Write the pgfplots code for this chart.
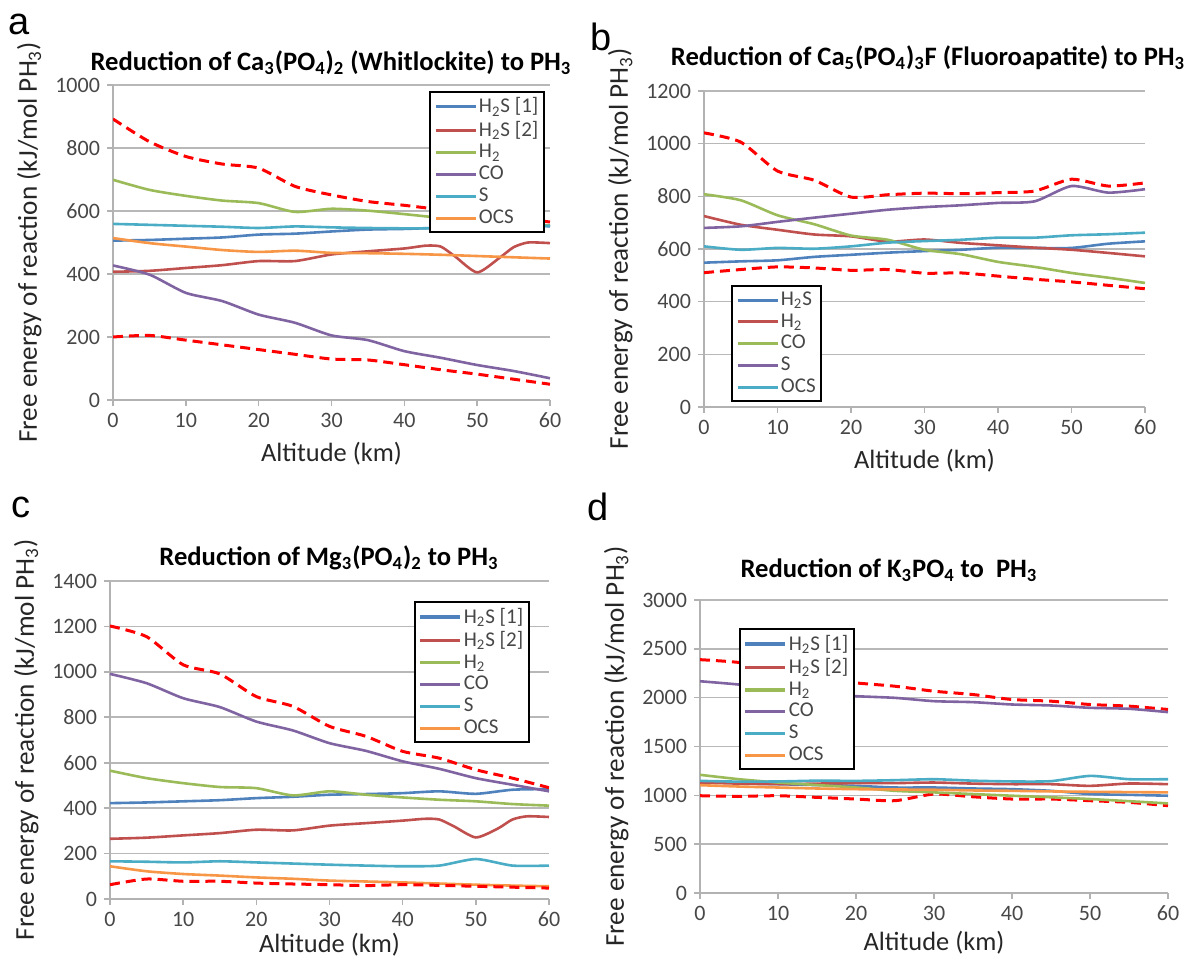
\documentclass[border=0pt]{standalone}
\usepackage{fontspec}
\setmainfont{Carlito}
\newfontfamily\arialf{Liberation Sans}
\usepackage{pgfplots}
\usepackage{pgfplotstable}
\pgfplotsset{compat=1.18}
\definecolor{xblue}{HTML}{4F81BD}
\definecolor{xred}{HTML}{C0504D}
\definecolor{xgreen}{HTML}{9BBB59}
\definecolor{xpurple}{HTML}{8064A2}
\definecolor{xaqua}{HTML}{4BACC6}
\definecolor{xorange}{HTML}{F79646}

% Panel a
\pgfplotstableread{
x up lo h2 s h2s co ocs
0 892 200 699 559 506 427 514
5 820 205 667 556 508 398 498
10 773 190 648 553 512 340 487
15 749 175 633 550 516 314 476
20 736 160 625 546 525 271 470
25 678 145 597 551 528 245 474
30 651 130 607 548 535 205 467
35 630 127 601 546 541 190 466
40 618 112 590 545 543 155 464
45 604 96 578 547 546 134 461
50 588 82 567 580 537 111 457
55 578 66 559 555 556 92 453
60 565 50 554 553 551 69 449
}\tabA
\pgfplotstableread{
x v
0 407
5 410
10 419
15 428
20 441
25 441
30 462
35 472
40 481
43 490
45 487
47 455
50 405
53 450
55 485
57 500
60 498
}\tabAtwo

% Panel b
\pgfplotstableread{
x up lo h2s h2 co s ocs
0 1041 510 548 725 808 680 610
5 1006 522 553 692 785 686 597
10 896 532 557 673 728 703 604
15 861 528 570 655 694 719 601
20 797 519 578 648 651 734 610
25 806 522 586 628 635 749 624
30 812 508 592 636 597 759 630
35 810 509 597 623 580 766 635
40 814 497 605 614 551 775 643
45 820 485 604 605 532 781 643
50 865 475 604 597 509 839 652
55 839 462 620 585 491 814 656
60 851 449 629 572 471 827 662
}\tabB

% Panel c
\pgfplotstableread{
x up lo h2 s h2s co ocs
0 1202 63 565 166 422 991 144
5 1155 88 532 164 425 950 122
10 1031 78 510 161 430 884 110
15 991 78 493 166 435 845 103
20 891 70 488 161 444 781 95
25 848 66 456 156 450 742 89
30 760 63 474 151 459 686 81
35 716 59 459 147 462 652 77
40 650 63 447 144 466 606 73
45 620 60 437 147 474 573 68
50 569 56 430 176 463 532 63
55 532 52 418 147 481 503 59
60 490 48 411 147 484 474 56
}\tabC
\pgfplotstableread{
x v
0 265
5 270
10 280
15 290
20 305
25 302
30 323
35 334
40 345
43 353
45 350
47 320
50 271
53 310
55 350
57 364
60 361
}\tabCtwo

% Panel d
\pgfplotstableread{
x up lo h2sa h2sb h2 co s ocs
0 2389 996 1142 1131 1210 2168 1148 1104
5 2360 990 1125 1120 1165 2134 1140 1090
10 2280 996 1114 1114 1131 2083 1142 1080
15 2200 979 1105 1120 1105 2040 1150 1070
20 2151 962 1097 1125 1080 2015 1148 1063
25 2117 945 1080 1125 1046 1998 1155 1060
30 2066 1013 1080 1131 1030 1964 1165 1057
35 2032 985 1070 1120 1013 1954 1150 1050
40 1981 962 1063 1114 996 1930 1142 1046
45 1964 962 1046 1114 980 1920 1145 1040
50 1930 945 1013 1097 962 1896 1199 1036
55 1913 928 1005 1121 940 1886 1165 1033
60 1879 894 996 1114 917 1852 1165 1030
}\tabD

\pgfplotsset{
  panel/.style={
    scale only axis, xmin=0, xmax=60, xtick={0,10,...,60}, ymin=0,
    axis lines*=left, axis line style={-, draw=black!30, line width=0.8pt},
    ymajorgrids, grid style={draw=black!28, line width=0.8pt},
    tick style={draw=black!30, line width=0.8pt}, tick align=outside, major tick length=3pt,
    tick label style={font=\fontsize{11}{11}\selectfont, text=black!72},
    /pgf/number format/assume math mode=true, /pgf/number format/1000 sep={},
    xlabel style={font=\fontsize{13.2}{13.2}\selectfont, text=black!85},
    ylabel style={font=\fontsize{13.6}{13.6}\selectfont, text=black!85},
    xlabel={Altitude (km)},
    ylabel={Free energy of reaction (kJ/mol PH\textsubscript{3})},
    legend style={draw=black, line width=1pt, fill=white,
      font=\fontsize{10.5}{10.5}\selectfont, text=black!72,
      inner sep=2pt, row sep=0.8pt, nodes={inner sep=0.9pt}},
    legend cell align=left,
    legend image code/.code={\draw[##1, line width=1.6pt] (0pt,0pt) -- (20pt,0pt);},
    every axis plot/.append style={line width=1.3pt, smooth, tension=0.4},
  },
  dd/.style={red, dash pattern=on 5pt off 3pt, line width=1.5pt, forget plot},
}

\begin{document}
\begin{tikzpicture}
\path[use as bounding box] (0,0) rectangle (596.5pt,478pt);

% ---------- a ----------
\begin{axis}[panel, at={(56.5pt,278pt)}, anchor=south west,
  width=218.5pt, height=157.5pt, ymax=1000, ytick={0,200,...,1000},
  legend style={at={(0.723,0.981)}, anchor=north west}]
\addplot[xblue] table[x=x,y=h2s] {\tabA};
\addlegendentry{H\textsubscript{2}S [1]}
\addplot[xred] table[x=x,y=v] {\tabAtwo};
\addlegendentry{H\textsubscript{2}S [2]}
\addplot[xgreen] table[x=x,y=h2] {\tabA};
\addlegendentry{H\textsubscript{2}}
\addplot[xpurple] table[x=x,y=co] {\tabA};
\addlegendentry{CO}
\addplot[xaqua] table[x=x,y=s] {\tabA};
\addlegendentry{S}
\addplot[xorange] table[x=x,y=ocs] {\tabA};
\addlegendentry{OCS}
\addplot[dd] table[x=x,y=up] {\tabA};
\addplot[dd] table[x=x,y=lo] {\tabA};
\end{axis}

% ---------- b ----------
\begin{axis}[panel, at={(352pt,274.5pt)}, anchor=south west,
  width=220.5pt, height=158pt, ymax=1200, ytick={0,200,...,1200},
  legend style={at={(0.061,0.386)}, anchor=north west}]
\addplot[xblue] table[x=x,y=h2s] {\tabB};
\addlegendentry{H\textsubscript{2}S}
\addplot[xred] table[x=x,y=h2] {\tabB};
\addlegendentry{H\textsubscript{2}}
\addplot[xgreen] table[x=x,y=co] {\tabB};
\addlegendentry{CO}
\addplot[xpurple] table[x=x,y=s] {\tabB};
\addlegendentry{S}
\addplot[xaqua] table[x=x,y=ocs] {\tabB};
\addlegendentry{OCS}
\addplot[dd] table[x=x,y=up] {\tabB};
\addplot[dd] table[x=x,y=lo] {\tabB};
\end{axis}

% ---------- c ----------
\begin{axis}[panel, at={(55pt,28.5pt)}, anchor=south west,
  width=219.5pt, height=159pt, ymax=1400, ytick={0,200,...,1400},
  xlabel style={yshift=4pt},
  legend style={at={(0.692,0.937)}, anchor=north west}]
\addplot[xblue] table[x=x,y=h2s] {\tabC};
\addlegendentry{H\textsubscript{2}S [1]}
\addplot[xred] table[x=x,y=v] {\tabCtwo};
\addlegendentry{H\textsubscript{2}S [2]}
\addplot[xgreen] table[x=x,y=h2] {\tabC};
\addlegendentry{H\textsubscript{2}}
\addplot[xpurple] table[x=x,y=co] {\tabC};
\addlegendentry{CO}
\addplot[xaqua] table[x=x,y=s] {\tabC};
\addlegendentry{S}
\addplot[xorange] table[x=x,y=ocs] {\tabC};
\addlegendentry{OCS}
\addplot[dd] table[x=x,y=up] {\tabC};
\addplot[dd] table[x=x,y=lo] {\tabC};
\end{axis}

% ---------- d ----------
\begin{axis}[panel, at={(350pt,31.5pt)}, anchor=south west,
  width=234pt, height=146.5pt, ymax=3000, ytick={0,500,...,3000},
  xlabel style={yshift=2pt},
  legend style={at={(0.083,0.904)}, anchor=north west}]
\addplot[dd] table[x=x,y=up] {\tabD};
\addplot[dd] table[x=x,y=lo] {\tabD};
\addplot[xblue] table[x=x,y=h2sa] {\tabD};
\addlegendentry{H\textsubscript{2}S [1]}
\addplot[xred] table[x=x,y=h2sb] {\tabD};
\addlegendentry{H\textsubscript{2}S [2]}
\addplot[xgreen] table[x=x,y=h2] {\tabD};
\addlegendentry{H\textsubscript{2}}
\addplot[xpurple] table[x=x,y=co] {\tabD};
\addlegendentry{CO}
\addplot[xaqua] table[x=x,y=s] {\tabD};
\addlegendentry{S}
\addplot[xorange] table[x=x,y=ocs] {\tabD};
\addlegendentry{OCS}
\end{axis}

% titles
\begin{scope}[every node/.style={font=\bfseries\fontsize{13.3}{13.3}\selectfont}]
\node at (165.5pt,446.5pt) {Reduction of Ca\textsubscript{3}(PO\textsubscript{4})\textsubscript{2} (Whitlockite) to PH\textsubscript{3}};
\node at (464pt,449pt) {Reduction of Ca\textsubscript{5}(PO\textsubscript{4})\textsubscript{3}F (Fluoroapatite) to PH\textsubscript{3}};
\node at (164.5pt,199pt) {Reduction of Mg\textsubscript{3}(PO\textsubscript{4})\textsubscript{2} to PH\textsubscript{3}};
\node at (444.5pt,193pt) {Reduction of K\textsubscript{3}PO\textsubscript{4} to \ PH\textsubscript{3}};
\end{scope}
% panel letters
\begin{scope}[every node/.style={font=\arialf\fontsize{19}{19}\selectfont}]
\node at (9.5pt,466pt) {a};
\node at (300.5pt,459.5pt) {b};
\node at (10.5pt,224.5pt) {c};
\node at (299pt,224.5pt) {d};
\end{scope}
\end{tikzpicture}
\end{document}
